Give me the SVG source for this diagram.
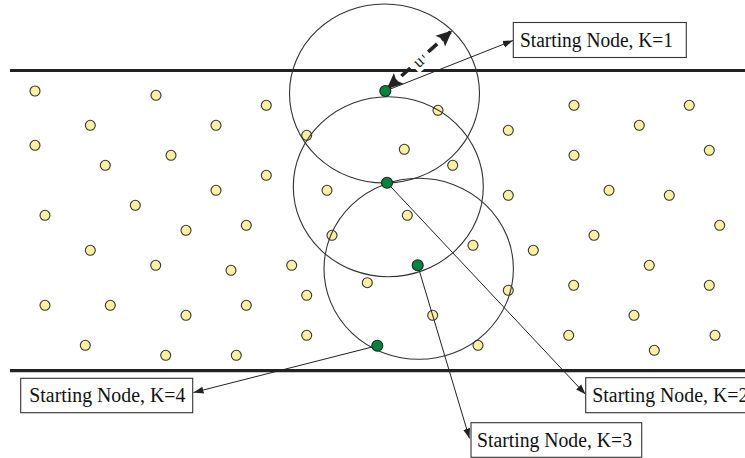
<svg xmlns="http://www.w3.org/2000/svg" width="745" height="458" viewBox="0 0 745 458">
<defs>
<style>
.bar{stroke:#222;stroke-width:3.2;fill:none}
.rng{fill:none;stroke:#333;stroke-width:1.1}
.dot{fill:#fbf0a0;stroke:#333;stroke-width:1.1}
.start{fill:#00843d;stroke:#222;stroke-width:1.1}
.box{fill:#fff;stroke:#333;stroke-width:1.1}
.lbl{font-family:"Liberation Serif","Times New Roman",serif;font-size:20.5px;fill:#111}
.con{stroke:#222;stroke-width:1;fill:none}
.dash{stroke:#222;stroke-width:3.6;fill:none;stroke-dasharray:12 6}
</style>
<marker id="ah" viewBox="0 0 10 10" refX="10" refY="5" markerWidth="10" markerHeight="10" markerUnits="userSpaceOnUse" orient="auto">
<path d="M0,1.5 L10,5 L0,8.5 Z" fill="#222"/>
</marker>
<marker id="ahb" viewBox="0 0 10 10" refX="9" refY="5" markerWidth="16" markerHeight="16" markerUnits="userSpaceOnUse" orient="auto-start-reverse">
<path d="M0,0.5 L10,5 L0,9.5 L2,5 Z" fill="#222"/>
</marker>
</defs>
<rect width="745" height="458" fill="#fff"/>
<g id="boundaries">
<line class="bar" x1="10" y1="70.5" x2="745" y2="70.5"/>
<line class="bar" x1="10" y1="370.7" x2="745" y2="370.7"/>
</g>
<g id="sensors">
<circle class="dot" cx="35" cy="91" r="5"/>
<circle class="dot" cx="156" cy="95.3" r="5"/>
<circle class="dot" cx="266.3" cy="105.3" r="5"/>
<circle class="dot" cx="90.3" cy="125.3" r="5"/>
<circle class="dot" cx="216" cy="125.3" r="5"/>
<circle class="dot" cx="35" cy="145.3" r="5"/>
<circle class="dot" cx="171" cy="155.3" r="5"/>
<circle class="dot" cx="105.3" cy="165.3" r="5"/>
<circle class="dot" cx="266.3" cy="175.3" r="5"/>
<circle class="dot" cx="216" cy="190.3" r="5"/>
<circle class="dot" cx="135.3" cy="205.3" r="5"/>
<circle class="dot" cx="45" cy="215.3" r="5"/>
<circle class="dot" cx="186" cy="230.3" r="5"/>
<circle class="dot" cx="246.3" cy="225.3" r="5"/>
<circle class="dot" cx="90.3" cy="250.3" r="5"/>
<circle class="dot" cx="155.7" cy="265.3" r="5"/>
<circle class="dot" cx="231" cy="270.3" r="5"/>
<circle class="dot" cx="291.7" cy="265.3" r="5"/>
<circle class="dot" cx="45" cy="305.3" r="5"/>
<circle class="dot" cx="110.3" cy="305.3" r="5"/>
<circle class="dot" cx="186" cy="315.3" r="5"/>
<circle class="dot" cx="246.3" cy="305.3" r="5"/>
<circle class="dot" cx="85.3" cy="345.3" r="5"/>
<circle class="dot" cx="165.7" cy="355.3" r="5"/>
<circle class="dot" cx="236.3" cy="355.3" r="5"/>
<circle class="dot" cx="438" cy="110.3" r="5"/>
<circle class="dot" cx="306.7" cy="135.3" r="5"/>
<circle class="dot" cx="404.3" cy="149.3" r="5"/>
<circle class="dot" cx="452.7" cy="165.3" r="5"/>
<circle class="dot" cx="327" cy="190.3" r="5"/>
<circle class="dot" cx="407.3" cy="215.3" r="5"/>
<circle class="dot" cx="332" cy="235.3" r="5"/>
<circle class="dot" cx="473" cy="245.3" r="5"/>
<circle class="dot" cx="367.3" cy="282.7" r="5"/>
<circle class="dot" cx="306.7" cy="295.3" r="5"/>
<circle class="dot" cx="432.7" cy="315.3" r="5"/>
<circle class="dot" cx="306.7" cy="335.3" r="5"/>
<circle class="dot" cx="478" cy="345.3" r="5"/>
<circle class="dot" cx="508.3" cy="130.3" r="5"/>
<circle class="dot" cx="508.3" cy="195.3" r="5"/>
<circle class="dot" cx="533.3" cy="250.3" r="5"/>
<circle class="dot" cx="508.3" cy="290.3" r="5"/>
<circle class="dot" cx="574" cy="105.3" r="5"/>
<circle class="dot" cx="689.3" cy="105.3" r="5"/>
<circle class="dot" cx="639.3" cy="125.3" r="5"/>
<circle class="dot" cx="574" cy="155.3" r="5"/>
<circle class="dot" cx="709.3" cy="150.3" r="5"/>
<circle class="dot" cx="609" cy="190.3" r="5"/>
<circle class="dot" cx="669.3" cy="195.3" r="5"/>
<circle class="dot" cx="719.7" cy="225.3" r="5"/>
<circle class="dot" cx="594" cy="235.3" r="5"/>
<circle class="dot" cx="649.3" cy="265.3" r="5"/>
<circle class="dot" cx="573.7" cy="285.3" r="5"/>
<circle class="dot" cx="709.3" cy="285.3" r="5"/>
<circle class="dot" cx="634" cy="315.3" r="5"/>
<circle class="dot" cx="568.7" cy="335.3" r="5"/>
<circle class="dot" cx="715" cy="335.3" r="5"/>
<circle class="dot" cx="654.3" cy="350.3" r="5"/>
</g>
<g id="ranges">
<ellipse class="rng" cx="384.5" cy="93.5" rx="95" ry="89.5"/>
<ellipse class="rng" cx="388.3" cy="186.7" rx="95" ry="90"/>
<ellipse class="rng" cx="418.7" cy="268.8" rx="94.7" ry="90.5"/>
</g>
<g id="connectors">
<line class="con" x1="385.3" y1="91" x2="513" y2="40.5" marker-end="url(#ah)"/>
<line class="con" x1="387" y1="182.7" x2="585.5" y2="394.3" marker-end="url(#ah)"/>
<line class="con" x1="417.7" y1="265.3" x2="469.5" y2="438.5" marker-end="url(#ah)"/>
<line class="con" x1="377.3" y1="345.7" x2="193.5" y2="392.5" marker-end="url(#ah)"/>
<line class="dash" x1="388" y1="88" x2="451" y2="31.5" marker-start="url(#ahb)" marker-end="url(#ahb)"/>
<g id="range-label" transform="translate(418.5,62) rotate(-42)">
<rect x="-7" y="-9" width="14" height="18" fill="#fff"/>
<text x="0" y="5" text-anchor="middle" style="font-family:'Liberation Serif','Times New Roman',serif;font-size:17px;fill:#222">u</text>
</g>
</g>
<g id="start-k1"><circle class="start" cx="385.3" cy="91" r="5.5"/></g>
<g id="start-k2"><circle class="start" cx="387" cy="182.7" r="5.5"/></g>
<g id="start-k3"><circle class="start" cx="417.7" cy="265.3" r="5.5"/></g>
<g id="start-k4"><circle class="start" cx="377.3" cy="345.7" r="5.5"/></g>
<g id="label-k1">
<rect class="box" x="513.3" y="22.5" width="173" height="35"/>
<text class="lbl" x="520" y="47" textLength="153" lengthAdjust="spacingAndGlyphs">Starting Node, K=1</text>
</g>
<g id="label-k2">
<rect class="box" x="585.7" y="377.7" width="175" height="35"/>
<text class="lbl" x="592.3" y="402" textLength="156" lengthAdjust="spacingAndGlyphs">Starting Node, K=2</text>
</g>
<g id="label-k3">
<rect class="box" x="471" y="422.7" width="170.7" height="34.6"/>
<text class="lbl" x="477" y="446.5" textLength="155" lengthAdjust="spacingAndGlyphs">Starting Node, K=3</text>
</g>
<g id="label-k4">
<rect class="box" x="20.7" y="378.3" width="172" height="34.4"/>
<text class="lbl" x="29.3" y="402" textLength="156" lengthAdjust="spacingAndGlyphs">Starting Node, K=4</text>
</g>
</svg>
